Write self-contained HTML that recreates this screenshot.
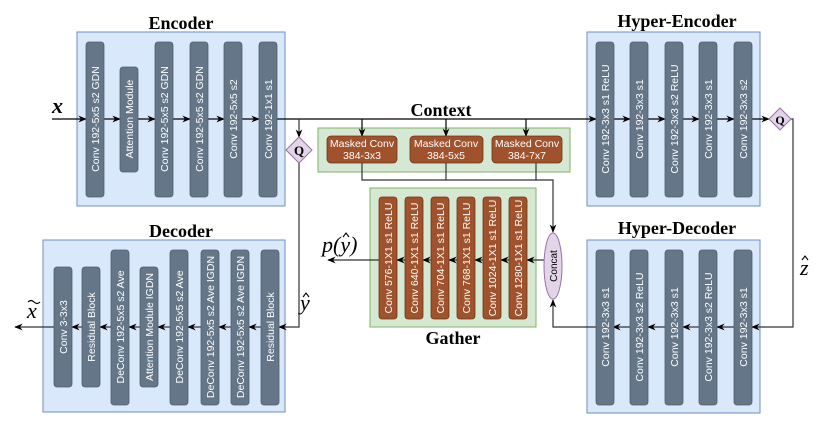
<!DOCTYPE html>
<html><head><meta charset="utf-8"><style>
html,body{margin:0;padding:0;background:#fff;}
svg{display:block;}
.b{fill:#647687;stroke:#4f5f6e;stroke-width:0.8;}
.o{fill:#a0522d;stroke:#6d3414;stroke-width:0.8;}
.bt{fill:#fff;font-family:"Liberation Sans",sans-serif;font-size:10.5px;}
.t{font-family:"Liberation Serif",serif;font-weight:bold;font-size:18px;fill:#000;}
.m{font-family:"Liberation Serif","DejaVu Serif",serif;font-style:italic;font-size:22px;}
</style></head><body>
<svg width="830" height="423" viewBox="0 0 830 423" xmlns="http://www.w3.org/2000/svg">
<defs>
<marker id="a" viewBox="0 0 10 10" refX="9" refY="5" markerWidth="7" markerHeight="7" orient="auto"><path d="M0,1 L10,5 L0,9 L3,5z" fill="#000"/></marker>
</defs>
<rect x="77" y="32" width="208" height="174" fill="#dae8fc" stroke="#6c8ebf"/>
<rect x="43" y="240" width="242" height="172" fill="#dae8fc" stroke="#6c8ebf"/>
<rect x="587" y="32" width="173" height="174" fill="#dae8fc" stroke="#6c8ebf"/>
<rect x="587" y="240" width="173" height="173" fill="#dae8fc" stroke="#6c8ebf"/>
<rect x="318" y="128" width="252" height="44" fill="#d5e8d4" stroke="#82b366"/>
<rect x="370" y="188" width="166" height="139" fill="#d5e8d4" stroke="#82b366"/>
<text class="t" x="181" y="29" text-anchor="middle">Encoder</text>
<text class="t" x="181" y="237" text-anchor="middle">Decoder</text>
<text class="t" x="677" y="27" text-anchor="middle">Hyper-Encoder</text>
<text class="t" x="677" y="234" text-anchor="middle">Hyper-Decoder</text>
<text class="t" x="441" y="116" text-anchor="middle">Context</text>
<text class="t" x="453" y="344" text-anchor="middle">Gather</text>
<g stroke="#000" stroke-width="1.2" fill="none">
<line x1="52" y1="119" x2="86" y2="119" marker-end="url(#a)"/>
<line x1="104" y1="119" x2="120" y2="119" marker-end="url(#a)"/>
<line x1="138" y1="119" x2="155" y2="119" marker-end="url(#a)"/>
<line x1="173" y1="119" x2="190" y2="119" marker-end="url(#a)"/>
<line x1="208" y1="119" x2="224" y2="119" marker-end="url(#a)"/>
<line x1="242" y1="119" x2="259" y2="119" marker-end="url(#a)"/>
<line x1="277" y1="119" x2="596" y2="119" marker-end="url(#a)"/>
<line x1="362" y1="119" x2="362" y2="136" marker-end="url(#a)"/>
<line x1="446" y1="119" x2="446" y2="136" marker-end="url(#a)"/>
<line x1="526" y1="119" x2="526" y2="136" marker-end="url(#a)"/>
<line x1="613" y1="119" x2="630" y2="119" marker-end="url(#a)"/>
<line x1="648" y1="119" x2="665" y2="119" marker-end="url(#a)"/>
<line x1="683" y1="119" x2="699" y2="119" marker-end="url(#a)"/>
<line x1="717" y1="119" x2="734" y2="119" marker-end="url(#a)"/>
<line x1="752" y1="119" x2="769" y2="119" marker-end="url(#a)"/>
</g>
<g stroke="#333" stroke-width="1.2" fill="none">
<polyline points="362,163 362,180 553,180 553,232" marker-end="url(#a)"/>
<line x1="446" y1="163" x2="446" y2="180"/>
<line x1="536" y1="163" x2="536" y2="180"/>
<line x1="299" y1="119" x2="299" y2="137" marker-end="url(#a)"/>
<polyline points="299,163 299,327 279,327" marker-end="url(#a)"/>
<polyline points="791,119 793,119 793,327 752,327" marker-end="url(#a)"/>
<polyline points="596,327 553,327 553,300" marker-end="url(#a)"/>
<line x1="734" y1="327" x2="717" y2="327" marker-end="url(#a)"/>
<line x1="699" y1="327" x2="683" y2="327" marker-end="url(#a)"/>
<line x1="665" y1="327" x2="648" y2="327" marker-end="url(#a)"/>
<line x1="630" y1="327" x2="613" y2="327" marker-end="url(#a)"/>
<line x1="545" y1="260" x2="527" y2="260" marker-end="url(#a)"/>
<line x1="509" y1="260" x2="501" y2="260" marker-end="url(#a)"/>
<line x1="483" y1="260" x2="475" y2="260" marker-end="url(#a)"/>
<line x1="457" y1="260" x2="449" y2="260" marker-end="url(#a)"/>
<line x1="431" y1="260" x2="423" y2="260" marker-end="url(#a)"/>
<line x1="405" y1="260" x2="397" y2="260" marker-end="url(#a)"/>
<line x1="379" y1="260" x2="328" y2="260" marker-end="url(#a)"/>
<line x1="261" y1="327" x2="249" y2="327" marker-end="url(#a)"/>
<line x1="231" y1="327" x2="219" y2="327" marker-end="url(#a)"/>
<line x1="201" y1="327" x2="188" y2="327" marker-end="url(#a)"/>
<line x1="170" y1="327" x2="158" y2="327" marker-end="url(#a)"/>
<line x1="140" y1="327" x2="129" y2="327" marker-end="url(#a)"/>
<line x1="111" y1="327" x2="100" y2="327" marker-end="url(#a)"/>
<line x1="82" y1="327" x2="72" y2="327" marker-end="url(#a)"/>
<line x1="54" y1="327" x2="15" y2="327" marker-end="url(#a)"/>
</g>
<g>
<rect class="b" x="86" y="42" width="18" height="155" rx="3"/>
<rect class="b" x="120" y="67" width="18" height="105" rx="3"/>
<rect class="b" x="155" y="42" width="18" height="155" rx="3"/>
<rect class="b" x="190" y="42" width="18" height="155" rx="3"/>
<rect class="b" x="224" y="42" width="18" height="155" rx="3"/>
<rect class="b" x="259" y="42" width="18" height="155" rx="3"/>
</g>
<g class="bt" text-anchor="middle">
<text transform="translate(99,119) rotate(-90)">Conv 192-5x5 s2 GDN</text>
<text transform="translate(133,119) rotate(-90)">Attention Module</text>
<text transform="translate(168,119) rotate(-90)">Conv 192-5x5 s2 GDN</text>
<text transform="translate(203,119) rotate(-90)">Conv 192-5x5 s2 GDN</text>
<text transform="translate(237,119) rotate(-90)">Conv 192-5x5 s2</text>
<text transform="translate(272,119) rotate(-90)">Conv 192-1x1 s1</text>
</g>
<g>
<rect class="b" x="54" y="267" width="18" height="120" rx="3"/>
<rect class="b" x="82" y="267" width="18" height="120" rx="3"/>
<rect class="b" x="111" y="250" width="18" height="155" rx="3"/>
<rect class="b" x="140" y="267" width="18" height="120" rx="3"/>
<rect class="b" x="170" y="250" width="18" height="155" rx="3"/>
<rect class="b" x="201" y="250" width="18" height="155" rx="3"/>
<rect class="b" x="231" y="250" width="18" height="155" rx="3"/>
<rect class="b" x="261" y="250" width="18" height="155" rx="3"/>
</g>
<g class="bt" text-anchor="middle">
<text transform="translate(67,327) rotate(-90)">Conv 3-3x3</text>
<text transform="translate(95,327) rotate(-90)">Residual Block</text>
<text transform="translate(124,327) rotate(-90)">DeConv 192-5x5 s2 Ave</text>
<text transform="translate(153,327) rotate(-90)">Attention Module IGDN</text>
<text transform="translate(183,327) rotate(-90)">DeConv 192-5x5 s2 Ave</text>
<text transform="translate(214,327) rotate(-90)">DeConv 192-5x5 s2 Ave IGDN</text>
<text transform="translate(244,327) rotate(-90)">DeConv 192-5x5 s2 Ave IGDN</text>
<text transform="translate(274,327) rotate(-90)">Residual Block</text>
</g>
<g>
<rect class="b" x="596" y="42" width="18" height="155" rx="3"/>
<rect class="b" x="630" y="42" width="18" height="155" rx="3"/>
<rect class="b" x="665" y="42" width="18" height="155" rx="3"/>
<rect class="b" x="699" y="42" width="18" height="155" rx="3"/>
<rect class="b" x="734" y="42" width="18" height="155" rx="3"/>
<rect class="b" x="596" y="250" width="18" height="155" rx="3"/>
<rect class="b" x="630" y="250" width="18" height="155" rx="3"/>
<rect class="b" x="665" y="250" width="18" height="155" rx="3"/>
<rect class="b" x="699" y="250" width="18" height="155" rx="3"/>
<rect class="b" x="734" y="250" width="18" height="155" rx="3"/>
</g>
<g class="bt" text-anchor="middle">
<text transform="translate(609,119) rotate(-90)">Conv 192-3x3 s1 ReLU</text>
<text transform="translate(643,119) rotate(-90)">Conv 192-3x3 s1</text>
<text transform="translate(678,119) rotate(-90)">Conv 192-3x3 s2 ReLU</text>
<text transform="translate(712,119) rotate(-90)">Conv 192-3x3 s1</text>
<text transform="translate(747,119) rotate(-90)">Conv 192-3x3 s2</text>
<text transform="translate(609,327) rotate(-90)">Conv 192-3x3 s1</text>
<text transform="translate(643,327) rotate(-90)">Conv 192-3x3 s2 ReLU</text>
<text transform="translate(678,327) rotate(-90)">Conv 192-3x3 s1</text>
<text transform="translate(712,327) rotate(-90)">Conv 192-3x3 s2 ReLU</text>
<text transform="translate(747,327) rotate(-90)">Conv 192-3x3 s1</text>
</g>
<rect class="o" x="327" y="136" width="70" height="27" rx="4"/>
<rect class="o" x="410" y="136" width="73" height="27" rx="4"/>
<rect class="o" x="492" y="136" width="70" height="27" rx="4"/>
<g class="bt" text-anchor="middle">
<text x="362" y="147">Masked Conv</text><text x="362" y="159">384-3x3</text>
<text x="446" y="147">Masked Conv</text><text x="446" y="159">384-5x5</text>
<text x="527" y="147">Masked Conv</text><text x="527" y="159">384-7x7</text>
</g>
<g>
<rect class="o" x="379" y="197" width="18" height="122" rx="3"/>
<rect class="o" x="405" y="197" width="18" height="122" rx="3"/>
<rect class="o" x="431" y="197" width="18" height="122" rx="3"/>
<rect class="o" x="457" y="197" width="18" height="122" rx="3"/>
<rect class="o" x="483" y="197" width="18" height="122" rx="3"/>
<rect class="o" x="509" y="197" width="18" height="122" rx="3"/>
</g>
<g class="bt" text-anchor="middle">
<text transform="translate(392,258) rotate(-90)">Conv 576-1X1 s1 ReLU</text>
<text transform="translate(418,258) rotate(-90)">Conv 640-1X1 s1 ReLU</text>
<text transform="translate(444,258) rotate(-90)">Conv 704-1X1 s1 ReLU</text>
<text transform="translate(470,258) rotate(-90)">Conv 768-1X1 s1 ReLU</text>
<text transform="translate(496,258) rotate(-90)">Conv 1024-1X1 s1 ReLU</text>
<text transform="translate(522,258) rotate(-90)">Conv 1280-1X1 s1 ReLU</text>
</g>
<ellipse cx="553" cy="266" rx="9" ry="33" fill="#e1d5e7" stroke="#9673a6"/>
<text transform="translate(557,266) rotate(-90)" text-anchor="middle" font-family="Liberation Sans,sans-serif" font-size="10" fill="#000">Concat</text>
<polygon points="299,137 312,150 299,163 286,150" fill="#e1d5e7" stroke="#9673a6"/>
<text x="299" y="155" text-anchor="middle" font-family="Liberation Serif,serif" font-weight="bold" font-size="13">Q</text>
<polygon points="780,108 791,119 780,130 769,119" fill="#e1d5e7" stroke="#9673a6"/>
<text x="780" y="124" text-anchor="middle" font-family="Liberation Serif,serif" font-weight="bold" font-size="12">Q</text>
<text class="m" x="52" y="113" font-weight="bold">x</text>
<text class="m" x="27" y="318">x</text>
<path d="M28,302 q3,-3 6,0 t6,0" stroke="#000" stroke-width="1.2" fill="none"/>
<text class="m" x="300" y="310">y</text>
<path d="M303,297 l3,-4 l3,4" stroke="#000" stroke-width="1.1" fill="none"/>
<text class="m" x="800" y="275">z</text>
<path d="M802,260 l3,-4 l3,4" stroke="#000" stroke-width="1.1" fill="none"/>
<text class="m" x="322" y="252">p(y)</text>
<path d="M343,237 l3,-4 l3,4" stroke="#000" stroke-width="1.1" fill="none"/>
</svg>
</body></html>
